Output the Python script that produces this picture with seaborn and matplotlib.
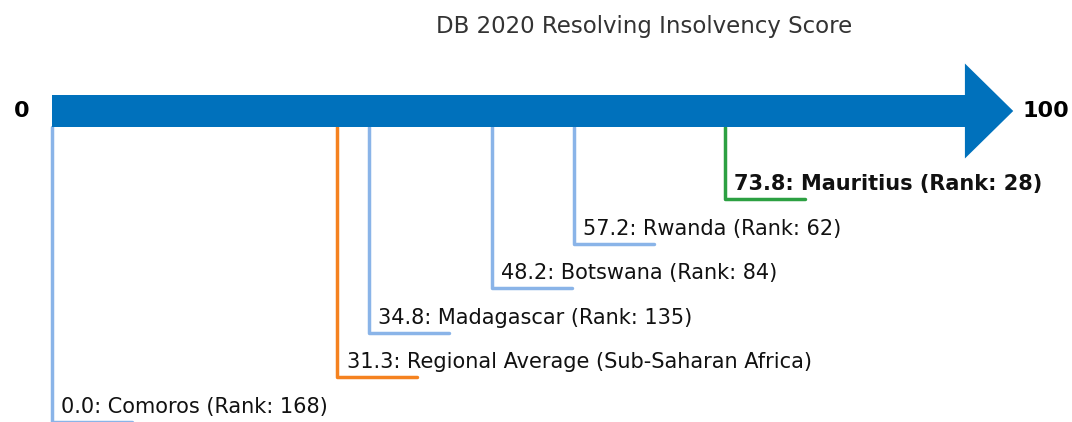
import matplotlib
matplotlib.use("Agg")
import matplotlib.pyplot as plt
from matplotlib.patches import FancyArrow
import seaborn as sns
import pandas as pd

# Economies and their DB 2020 "Resolving Insolvency" scores
names = ["Mauritius", "Rwanda", "Botswana", "Madagascar",
         "Regional Average (Sub-Saharan Africa)", "Comoros"]
scores = [73.8, 57.2, 48.2, 34.8, 31.3, 0.0]
ranks = [28, 62, 84, 135, None, 168]
kinds = ["highlight", "peer", "peer", "peer", "regional", "peer"]

title = "DB 2020 Resolving Insolvency Score"
scale_min, scale_max = 0, 100

palette = {"highlight": "#2CA042", "peer": "#8AB4E8", "regional": "#F5821F"}
arrow_color = "#0071BC"

sns.set_theme(style="white")
plt.rcParams["font.family"] = ["DejaVu Sans"]

fig = plt.figure(figsize=(10.72, 4.22), dpi=100)
ax = fig.add_axes([0, 0, 1, 1])

# horizontal scale: score units; vertical scale: figure pixels from top
px_per_unit = 9.12
x0_px = 52
ax.set_xlim(-x0_px / px_per_unit, (1072 - x0_px) / px_per_unit)
ax.set_ylim(422, 0)
ax.axis("off")

arrow_y = 111
body_h = 32
first_level = 199
step = 44.5
leg = 80 / px_per_unit

# connector paths: down from the arrow, then a short run to the right
rows = []
for i, (n, s, k) in enumerate(zip(names, scores, kinds)):
    lvl = first_level + step * i
    rows += [
        dict(name=n, kind=k, order=0, x=s, y=arrow_y + body_h / 2),
        dict(name=n, kind=k, order=1, x=s, y=lvl),
        dict(name=n, kind=k, order=2, x=s + leg, y=lvl),
    ]
paths = pd.DataFrame(rows)

sns.lineplot(data=paths, x="x", y="y", units="name", hue="kind",
             palette=palette, estimator=None, sort=False, lw=2.5,
             legend=False, ax=ax, zorder=1)

# the score scale drawn as a big arrow
span = scale_max - scale_min
ax.add_patch(FancyArrow(scale_min, arrow_y, span * 1.054, 0, width=body_h,
                        head_width=95, head_length=span * 0.053,
                        length_includes_head=True, color=arrow_color,
                        lw=0, zorder=3))

ax.text(scale_min - 2.5, arrow_y, f"{scale_min}", ha="right", va="center",
        fontsize=16, fontweight="bold", color="black")
ax.text(scale_max + 6.4, arrow_y, f"{scale_max}", ha="left", va="center",
        fontsize=16, fontweight="bold", color="black")

for i, (n, s, r, k) in enumerate(zip(names, scores, ranks, kinds)):
    lvl = first_level + step * i
    label = f"{s:.1f}: {n}" + (f" (Rank: {r})" if r is not None else "")
    ax.text(s + 1.0, lvl - 9, label, ha="left", va="baseline",
            fontsize=15, color="#111111",
            fontweight="bold" if k == "highlight" else "normal")

fig.text(644 / 1072, 1 - 27 / 422, title, ha="center", va="center",
         fontsize=16.5, color="#333333")

fig.savefig("out.png", dpi=100)
